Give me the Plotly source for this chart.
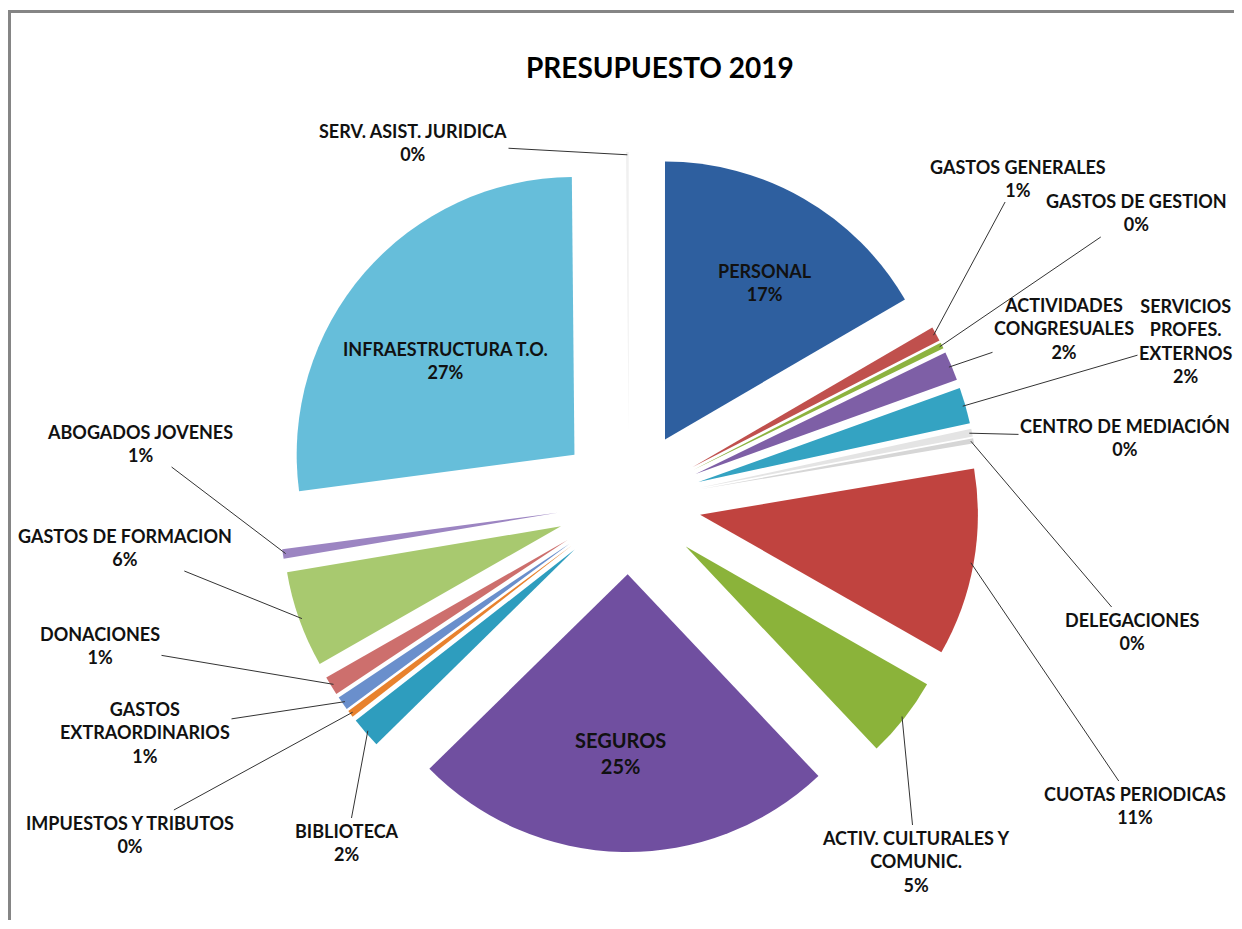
import math
import plotly.graph_objects as go

# ---------------- data ----------------
categories = ["PERSONAL", "GASTOS GENERALES", "GASTOS DE GESTION", "ACTIVIDADES CONGRESUALES",
              "SERVICIOS PROFES. EXTERNOS", "CENTRO DE MEDIACIÓN", "DELEGACIONES", "CUOTAS PERIODICAS",
              "ACTIV. CULTURALES Y COMUNIC.", "SEGUROS", "BIBLIOTECA", "IMPUESTOS Y TRIBUTOS",
              "GASTOS EXTRAORDINARIOS", "DONACIONES", "GASTOS DE FORMACION", "ABOGADOS JOVENES",
              "INFRAESTRUCTURA T.O.", "SERV. ASIST. JURIDICA"]
values = [16.6, 0.85, 0.35, 1.7, 2.1, 0.45, 0.3, 10.9, 4.7, 24.7, 1.8, 0.4, 0.8, 1.1, 5.6, 0.55, 26.95, 0.15]
label_text = ["PERSONAL", "GASTOS GENERALES", "GASTOS DE GESTION", "ACTIVIDADES<br>CONGRESUALES",
              "SERVICIOS<br>PROFES.<br>EXTERNOS", "CENTRO DE MEDIACIÓN", "DELEGACIONES", "CUOTAS PERIODICAS",
              "ACTIV. CULTURALES Y<br>COMUNIC.", "SEGUROS", "BIBLIOTECA", "IMPUESTOS Y TRIBUTOS",
              "GASTOS<br>EXTRAORDINARIOS", "DONACIONES", "GASTOS DE FORMACION", "ABOGADOS JOVENES",
              "INFRAESTRUCTURA T.O.", "SERV. ASIST. JURIDICA"]
title_text = "PRESUPUESTO 2019"

# ---------------- style / layout ----------------
colors = ["#2E5F9F", "#C0504D", "#8DB33F", "#7E5FA6", "#34A3C2", "#E4E4E4", "#D6D6D6", "#C0433F",
          "#8BB33A", "#704FA0", "#2E9DBE", "#E8822E", "#6A8FCC", "#CD6F6D", "#A8C96F", "#9C85C2",
          "#66BEDA", "#F0F0F0"]
OFF = 8                    # page body margin
W, H = 1242 - 2 * OFF, 929 - 2 * OFF - 1
CX, CY = 629 - OFF, 502 - OFF   # pie centre in figure px
BOX = 350
PULL = 0.26
R = BOX / (1 + PULL)
FONT = "Lato"


def px(x):
    return (x - OFF) / W


def py(y):
    return 1 - (y - OFF) / H


inside = {"PERSONAL": (765, 258, 18), "INFRAESTRUCTURA T.O.": (445, 360, 18), "SEGUROS": (620, 780, 20)}
label_pos = {
    "SERV. ASIST. JURIDICA": (413, 143, 18), "GASTOS GENERALES": (1018, 178, 18),
    "GASTOS DE GESTION": (1136, 213, 18), "ACTIVIDADES CONGRESUALES": (1064, 328, 18),
    "SERVICIOS PROFES. EXTERNOS": (1186, 341, 18), "CENTRO DE MEDIACIÓN": (1125, 437, 18),
    "DELEGACIONES": (1132, 631, 18), "CUOTAS PERIODICAS": (1135, 805, 18),
    "ACTIV. CULTURALES Y COMUNIC.": (916, 861, 18), "BIBLIOTECA": (347, 842, 18),
    "IMPUESTOS Y TRIBUTOS": (130, 834, 18), "GASTOS EXTRAORDINARIOS": (145, 732, 18),
    "DONACIONES": (100, 645, 18), "GASTOS DE FORMACION": (125, 547, 18), "ABOGADOS JOVENES": (140, 443, 18),
}

fig = go.Figure(go.Pie(
    labels=categories, values=values, sort=False, direction="clockwise", rotation=0,
    pull=[PULL] * len(values), marker=dict(colors=colors, line=dict(width=0)),
    textinfo="none", hoverinfo="label+percent", showlegend=False,
    domain=dict(x=[(CX - BOX) / W, (CX + BOX) / W], y=[(H - CY - BOX) / H, (H - CY + BOX) / H]),
))

total = sum(values)
annotations = []
cum = 0.0
for name, txt, v in zip(categories, label_text, values):
    mid = (cum + v / 2) / total * 2 * math.pi
    cum += v
    pct = f"{round(v / total * 100):d}%"
    text = "<br>".join(f"<b>{t}</b>" for t in (txt + "<br>" + pct).split("<br>"))
    if name in inside:
        lx, ly, fs = inside[name]
        annotations.append(dict(x=px(lx), y=py(ly), xref="paper", yref="paper", showarrow=False,
                                text=text, font=dict(family=FONT, size=fs, color="#111"), align="center"))
        continue
    dist = PULL * R + R * 0.99
    tx = CX + OFF + dist * math.sin(mid)
    ty = CY + OFF - dist * math.cos(mid)
    lx, ly, fs = label_pos[name]
    annotations.append(dict(x=px(tx), y=py(ty), xref="paper", yref="paper",
                            ax=lx - tx, ay=ly - ty, showarrow=True, arrowhead=0, arrowwidth=1,
                            arrowcolor="#333", standoff=0, startstandoff=0,
                            text=text, font=dict(family=FONT, size=fs, color="#111"), align="center"))

annotations.append(dict(x=px(660), y=py(48), xref="paper", yref="paper", showarrow=False,
                        text=f"<b>{title_text}</b>", font=dict(family=FONT, size=28, color="#000")))

shapes = [
    dict(type="line", xref="paper", yref="paper", x0=px(9.5), x1=px(9.5), y0=0, y1=py(11),
         line=dict(color="#858585", width=3)),
    dict(type="line", xref="paper", yref="paper", x0=px(8), x1=1.01, y0=py(11.5), y1=py(11.5),
         line=dict(color="#858585", width=3)),
]

fig.update_layout(width=W, height=H, margin=dict(l=0, r=0, t=0, b=0), paper_bgcolor="white",
                  plot_bgcolor="white", annotations=annotations, shapes=shapes)
fig.write_html("out.html")
